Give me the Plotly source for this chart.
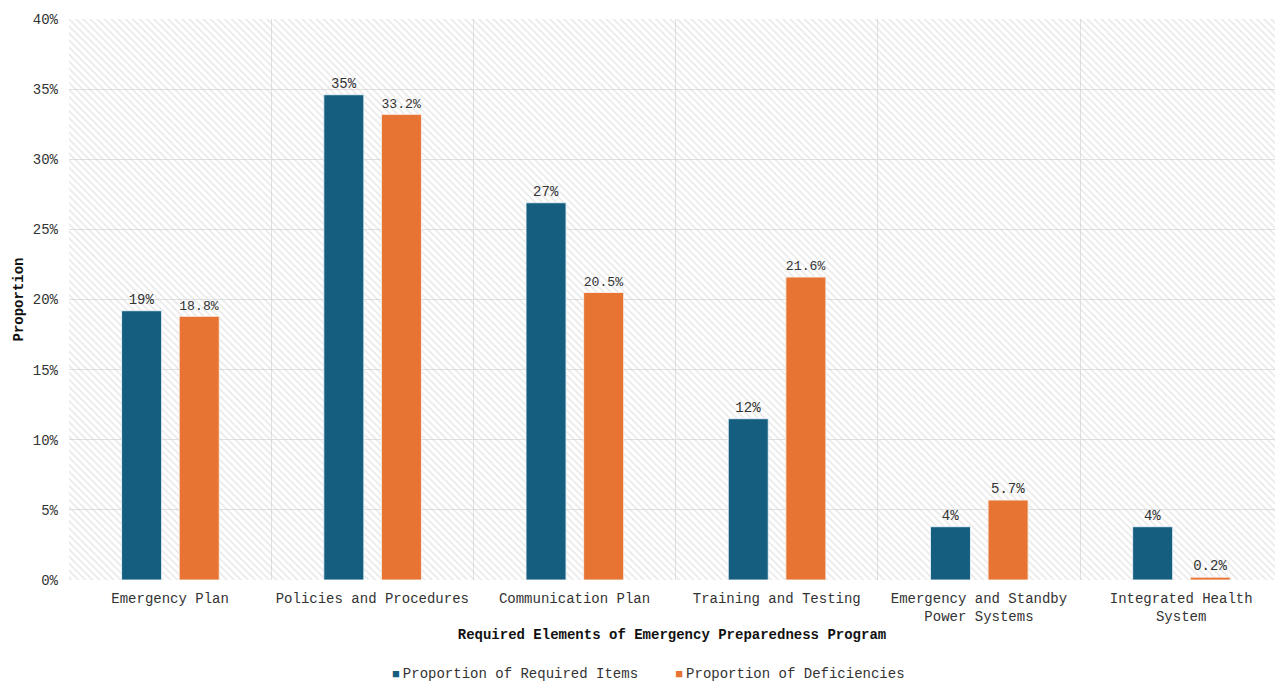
import plotly.graph_objects as go

# Categories and series (percent of total)
categories = [
    "Emergency Plan",
    "Policies and Procedures",
    "Communication Plan",
    "Training and Testing",
    "Emergency and Standby<br>Power Systems",
    "Integrated Health<br>System",
]
required_items = [19.2, 34.6, 26.9, 11.5, 3.8, 3.8]
deficiencies = [18.8, 33.2, 20.5, 21.6, 5.7, 0.2]
series_names = ["Proportion of Required Items", "Proportion of Deficiencies"]
y_ticks = [0, 5, 10, 15, 20, 25, 30, 35, 40]

FONT = "Liberation Mono, Courier New, monospace"
BLUE = "#155e80"
ORANGE = "#e87434"
TEXT = "#333333"
Y_MAX = 40

x_pos = list(range(len(categories)))
bar_w = 0.198

fig = go.Figure()

# hatched plot backdrop
fig.add_trace(go.Bar(
    x=[(len(categories) - 1) / 2], y=[Y_MAX], width=[len(categories)],
    marker=dict(color="rgba(0,0,0,0)", line=dict(width=0),
                pattern=dict(shape="\\", fgcolor="#d0d0d0", bgcolor="rgba(0,0,0,0)",
                             size=5, solidity=0.3)),
    showlegend=False, hoverinfo="skip",
))

fig.add_trace(go.Bar(
    x=x_pos, y=required_items, name=series_names[0],
    offset=-0.24, width=bar_w,
    marker=dict(color=BLUE, line=dict(color="rgba(235,245,250,0.9)", width=1)),
    text=[f"{v:.0f}%" for v in required_items], textposition="outside",
    textfont=dict(family=FONT, size=14, color=TEXT), cliponaxis=False,
    showlegend=False,
))
fig.add_trace(go.Bar(
    x=x_pos, y=deficiencies, name=series_names[1],
    offset=0.045, width=bar_w,
    marker=dict(color=ORANGE, line=dict(color="rgba(250,240,235,0.9)", width=1)),
    text=[f"{v:.1f}%" for v in deficiencies], textposition="outside",
    textfont=dict(family=FONT, size=14, color=TEXT), cliponaxis=False,
    showlegend=False,
))

# compact legend: small colour square right before each series name
def legend_item(color, label):
    return (f"<span style='color:{color};font-size:13px'>■</span>"
            f"<span style='font-size:5px'>&nbsp;</span>{label}")

legend_text = (
    legend_item(BLUE, series_names[0])
    + "&nbsp;&nbsp;&nbsp;&nbsp;<span style='font-size:6px'>&nbsp;</span>"
    + legend_item(ORANGE, series_names[1])
)

plot_w = 1275 - 69
plot_h = 681 - 19 - 101
fig.add_annotation(
    x=(648 - 69) / plot_w, xref="paper",
    y=(681 - 101 - 674) / plot_h, yref="paper",
    yanchor="middle", xanchor="center",
    text=legend_text, showarrow=False,
    font=dict(family=FONT, size=14, color=TEXT),
)

fig.update_layout(
    width=1275, height=681,
    margin=dict(l=69, r=0, t=19, b=101),
    paper_bgcolor="white", plot_bgcolor="white",
    barmode="overlay",
    showlegend=False,
    font=dict(family=FONT, size=14, color=TEXT),
    xaxis=dict(
        range=[-0.5, 5.464], tickmode="array", tickvals=x_pos, ticktext=categories,
        showgrid=False, zeroline=False, showline=False, ticks="",
        automargin=False, ticklabelstandoff=8,
        tickfont=dict(family=FONT, size=14, color=TEXT),
        minor=dict(tickmode="array", tickvals=[i - 0.5 for i in range(len(categories) + 1)],
                   showgrid=True, gridcolor="#e0e0e0", gridwidth=1, ticks=""),
        title=dict(text="<b>Required Elements of Emergency Preparedness Program</b>",
                   font=dict(family=FONT, size=14, color="#111111"), standoff=4),
    ),
    yaxis=dict(
        range=[0, Y_MAX], tickmode="array", tickvals=y_ticks,
        ticktext=[f"{t}%" for t in y_ticks],
        showgrid=True, gridcolor="#e0e0e0", gridwidth=1, zeroline=False,
        ticks="", ticklabelstandoff=10, automargin=False,
        tickfont=dict(family=FONT, size=14, color=TEXT),
        title=dict(text="<b>Proportion</b>", font=dict(family=FONT, size=14, color="#111111"),
                   standoff=5),
    ),
)

fig.write_html("out.html")
